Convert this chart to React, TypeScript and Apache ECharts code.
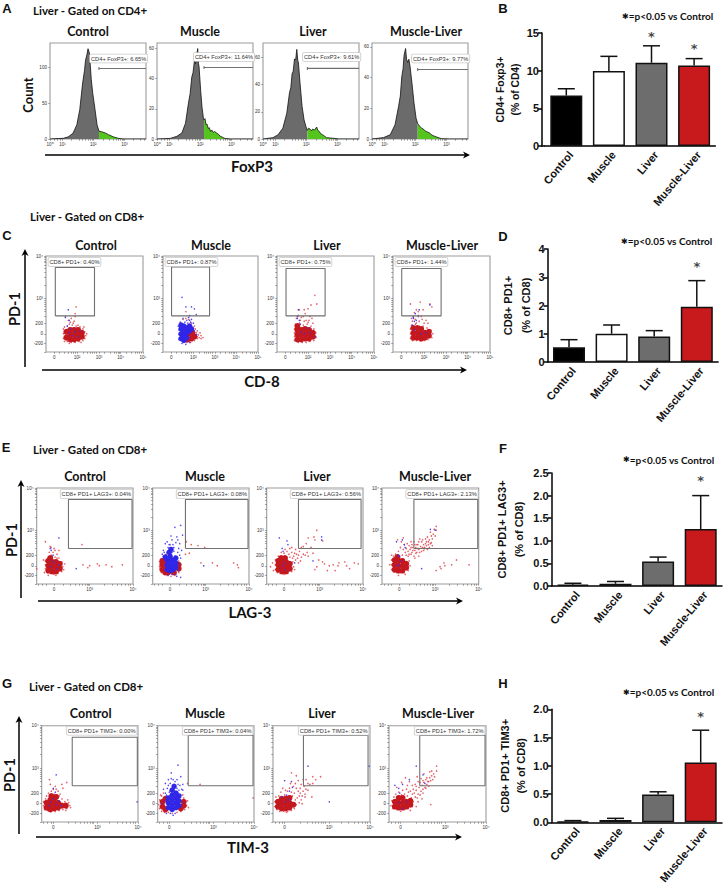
import React, { useEffect, useRef } from "react";
import * as echarts from "echarts";

const groups = ["Control", "Muscle", "Liver", "Muscle-Liver"];

// Bar panels: mean, mean + error, asterisk height
const bMeans = [6.7, 9.95, 11.05, 10.7];
const bTops = [7.6, 11.9, 13.3, 11.6];
const bStars = [[2, 14.9], [3, 13.3]];
const dMeans = [0.52, 1.0, 0.9, 1.96];
const dTops = [0.79, 1.31, 1.11, 2.88];
const dStars = [[3, 3.5]];
const fMeans = [0.03, 0.05, 0.54, 1.26];
const fTops = [0.06, 0.1, 0.64, 2.0];
const fStars = [[3, 2.39]];
const hMeans = [0.015, 0.04, 0.49, 1.06];
const hTops = [0.03, 0.07, 0.54, 1.63];
const hStars = [[3, 1.92]];

// Histograms, FoxP3 channel position vs count; gray part then green part
const aControlGray = [[0,0],[14,1],[19,3],[24,8],[28,20],[31,41],[34,78],[36,96],[37,110],[38.5,118],[39.6,126],[41,120],[41.5,112],[43,83],[44.5,64],[46,50],[49,20],[51,11]];
const aControlGreen = [[51,11],[54,10],[57.5,8.5],[61,6],[66,3],[71,1],[76,0],[100,0]];
const aMuscleGray = [[0,0],[13.8,0.4],[20.7,1.8],[25.9,4],[29.7,10.5],[32.8,24],[34.5,30],[36.2,41],[37.5,44],[39,52],[40.2,50],[41.4,56],[42.4,60],[43.2,50],[43.8,48],[45.5,32],[46.9,21],[48.3,14],[49,12.7]];
const aMuscleGreen = [[49,12.7],[50,13.5],[51,9.5],[52,10],[53.4,7],[54.5,7.5],[55.8,5],[57,6],[58.6,4.4],[60,5],[62,4],[64,3.2],[65.5,2],[70.7,0.4],[76,0],[100,0]];
const aLiverGray = [[0,0],[10.3,1],[15.5,3],[20.7,8],[24.8,19],[27.6,34],[29,38],[30.3,48],[31.5,50],[32.8,59],[34,58],[35.2,66],[36.2,58],[36.9,56],[38.6,41],[40.7,24],[42.8,14],[44.8,9],[46.2,6.3]];
const aLiverGreen = [[46.2,6.3],[47.5,8],[49,7.3],[50.5,6],[51.7,7.3],[53.5,6.5],[55.9,8.8],[57,6.5],[58.6,5.6],[60,4],[62,3.2],[66.2,1],[74,0.5],[79.3,0],[100,0]];
const aMlGray = [[0,0],[12,0.9],[19,2.8],[24,9.3],[27.6,21],[29.5,28],[31,40.6],[32.4,46],[33.4,54.6],[35,59],[36,52],[37.2,50],[38.4,52],[39.6,47.5],[41.7,36],[43.8,23.3],[45.9,13.6],[47.6,10]];
const aMlGreen = [[47.6,10],[49.5,8.5],[51.7,7],[53.5,6.5],[55,5.4],[57,4.8],[60,3.9],[62.5,2.5],[65.5,1.7],[72.4,0.2],[81,0],[100,0]];
const aControlGate = [[51,100.5],[51,96.3],[51,98.4],[100,98.4]];
const aMuscleGate = [[49,48.4],[49,46.4],[49,47.4],[100,47.4]];
const aLiverGate = [[46.2,53.1],[46.2,50.9],[46.2,52],[100,52]];
const aMlGate = [[47.6,46.3],[47.6,44.3],[47.6,45.3],[100,45.3]];

// Flow panel C: CD-8 vs PD-1, positions on the plotted channel scale (0-100)
const cControlCore = [[21,15],[21,21],[25,13],[25,18],[25,23],[29,13],[29,18],[29,23],[33,14],[33,19],[33,23],[37,16],[37,20]];
const cControlRed = [[18,14],[18,19],[18,24],[19,11],[22,27],[24,29],[27,28],[31,27],[35,26],[38,24],[40,21],[41,17],[40,14],[38,12],[34,11],[30,10],[26,10],[22,11],[30,37],[30,40],[31,47],[20,37],[26,35],[23,33],[25,31],[29,32],[28,30],[19,26],[39,26],[42,19],[36,10],[24,9],[33,28]];
const cControlBlue = [[23,44],[20,36],[24,33],[24,20],[27,17],[30,21],[26,24],[33,16],[22,27],[35,22]];
const cMuscleCore = [[22,14],[26,13],[30,14],[33,16],[28,19],[31,20],[25,18],[22,20]];
const cMuscleRed = [[36,16],[38,15],[40,14],[37,18],[35,20],[33,12],[29,10],[25,10],[20,24],[24,35],[27,34],[21,34],[24,42],[30,30],[33,27],[19,30],[36,14],[40,17],[34,24],[36,22],[39,20],[42,15]];
const cMuscleBlueCore = [[19,14],[19,19],[19,24],[22,12],[22,17],[22,22],[22,27],[25,15],[25,20],[25,25],[28,22],[28,27],[19,28],[30,24]];
const cMuscleBlue = [[20,57],[24,47],[30,47],[33,45],[35,39],[28,38],[21,35],[25,33],[28,33],[17,18],[17,23],[17,13],[20,9],[24,8],[28,10],[31,25],[33,22],[35,18],[32,30],[23,31],[27,36],[30,34],[18,31],[16,27],[29,31],[26,30]];
const cLiverCore = [[21,13],[21,18],[21,23],[21,27],[25,13],[25,18],[25,23],[29,14],[29,19],[29,24],[33,14],[33,19],[33,23],[37,16],[37,20]];
const cLiverRed = [[18,12],[18,16],[18,20],[18,24],[19,29],[23,30],[27,28],[31,29],[35,27],[38,24],[40,20],[40,15],[38,12],[34,11],[30,10],[26,10],[22,10],[39,59],[41,50],[35,49],[32,45],[28,44],[23,44],[27,37],[34,37],[20,35],[30,33],[36,35],[24,33],[28,32],[32,31],[22,38],[25,36],[29,40],[33,33],[37,30]];
const cLiverBlue = [[22,44],[21,35],[23,33],[25,21],[32,25],[40,16],[28,19],[34,20],[21,37],[24,29]];
const cMlCore = [[21,15],[21,20],[21,25],[25,15],[25,20],[25,25],[29,14],[29,19],[29,24],[33,15],[33,20],[37,17],[37,21]];
const cMlRed = [[18,14],[18,19],[18,24],[19,28],[20,32],[23,29],[27,27],[31,27],[35,25],[39,23],[41,19],[40,15],[36,13],[32,12],[28,12],[24,12],[20,12],[18,50],[28,52],[38,50],[40,47],[31,44],[24,44],[21,37],[26,37],[34,33],[29,37],[23,34],[27,32],[24,30],[32,30],[22,41],[26,42],[30,34],[36,30],[19,35]];
const cMlBlue = [[27,44],[21,35],[23,40],[22,32],[38,49],[20,28],[29,19],[22,23],[21,36],[24,33],[34,20],[26,38]];

// Flow panel E: LAG-3 vs PD-1
const eControlCore = [[12,14],[12,19],[12,24],[16,13],[16,18],[16,23],[20,13],[20,18],[20,23],[24,16],[24,21],[14,27]];
const eControlRed = [[9,16],[9,20],[9,24],[11,12],[14,11],[18,10],[22,11],[26,13],[27,18],[26,23],[23,27],[19,28],[15,30],[17,33],[13,33],[19,35],[15,38],[21,31],[18,37],[9,44],[14,39],[23,35],[7,25],[0,16],[47,41],[48,20],[53,17],[55,19],[63,21],[65,19],[72,20],[78,18],[89,20],[8,12],[28,15],[29,21],[20,9],[12,9],[16,29],[21,27]];
const eControlBlue = [[23,48],[14,37],[15,35],[17,30],[18,22],[14,18],[21,16],[23,20],[16,24],[41,16]];
const eMuscleCore = [[10,15],[10,20],[10,24],[13,12],[13,17],[13,22],[16,12],[22,12],[27,16],[27,20]];
const eMuscleRed = [[8,16],[8,21],[9,26],[11,29],[12,10],[15,9],[19,8],[23,9],[27,12],[28,18],[27,24],[35,44],[40,41],[47,40],[54,38],[38,32],[34,31],[50,22],[62,22],[67,19],[84,22],[88,20],[89,17],[7,18],[7,23],[9,12],[14,31]];
const eMuscleBlueCore = [[15,15],[15,20],[15,25],[18,14],[18,19],[18,24],[18,29],[21,15],[21,20],[21,25],[17,33],[19,36],[24,17],[24,22],[24,27],[13,28]];
const eMuscleBlue = [[23,29],[24,24],[14,30],[20,33],[13,27],[22,34],[25,28],[27,20],[27,14],[24,10],[20,10],[16,9],[12,33],[16,38],[22,38],[26,33],[29,61],[23,59],[31,51],[25,49],[18,41],[13,42],[20,46],[28,42],[30,35],[11,35],[25,8],[29,7],[53,19],[15,44],[17,41],[24,43],[27,37],[29,27],[28,30],[10,31],[21,41],[26,46],[19,50]];
const eLiverCore = [[12,15],[12,20],[12,24],[16,13],[16,18],[16,23],[20,13],[20,18],[20,23],[24,16],[24,21],[15,27],[19,27]];
const eLiverRed = [[9,15],[9,20],[9,25],[11,12],[14,11],[18,10],[22,11],[26,13],[28,18],[27,23],[24,28],[12,29],[24,37],[29,32],[34,34],[40,30],[43,29],[32,27],[36,28],[28,29],[38,39],[41,42],[46,38],[43,48],[49,49],[50,46],[52,56],[58,45],[36,38],[31,31],[26,33],[21,34],[50,15],[52,18],[58,23],[60,21],[65,19],[71,14],[74,19],[75,22],[81,23],[83,19],[86,16],[91,22],[95,21],[69,20],[4,18],[6,22],[30,25],[33,30],[38,31],[42,33],[35,24],[27,27],[23,31],[18,32],[15,33],[30,36],[26,38],[19,36],[48,32],[33,22],[7,14],[29,15],[54,25],[63,14]];
const eLiverBlue = [[13,48],[21,45],[16,37],[17,34],[22,41],[57,49],[57,46],[48,24],[18,22],[17,19],[29,22],[19,15]];
const eMlCore = [[13,15],[13,20],[13,25],[17,14],[17,19],[17,24],[21,14],[21,19],[21,24],[25,17],[25,21],[16,28]];
const eMlRed = [[10,15],[10,20],[10,25],[12,13],[15,12],[19,12],[23,12],[27,14],[29,19],[28,24],[12,29],[21,30],[28,31],[29,36],[31,33],[32,38],[34,35],[35,32],[36,41],[37,37],[38,44],[40,39],[41,34],[42,46],[43,41],[44,37],[45,47],[46,44],[47,49],[48,41],[47,36],[49,46],[50,42],[51,50],[50,54],[52,47],[53,52],[55,50],[56,56],[56,60],[54,57],[44,38],[39,47],[33,44],[25,37],[23,41],[26,42],[20,44],[16,46],[22,48],[30,44],[28,40],[56,14],[60,18],[64,22],[65,19],[72,20],[77,25],[90,20],[61,16],[27,29],[30,31],[33,29],[30,38],[35,38],[38,36],[39,33],[42,38],[46,40],[43,35],[48,44],[41,44],[37,41],[34,41],[31,41],[27,34],[24,33],[22,36],[19,38],[17,34],[14,31],[36,33],[51,43],[52,40],[45,42],[49,38],[32,35],[25,30],[34,27],[38,29],[8,20],[10,30],[24,10],[17,9]];
const eMlBlue = [[15,44],[21,46],[23,41],[17,30],[18,29],[18,20],[16,19],[50,57],[55,56],[41,16],[24,38],[19,24]];

// Flow panel G: TIM-3 vs PD-1
const gControlCore = [[5,15],[5,20],[9,13],[9,18],[9,23],[13,14],[13,19],[13,24],[17,15],[17,20],[21,17],[25,17],[10,27],[15,26]];
const gControlRed = [[2,17],[2,21],[4,24],[6,12],[10,11],[14,11],[18,12],[22,13],[26,14],[29,17],[28,20],[24,21],[21,24],[18,27],[5,27],[13,29],[8,44],[9,39],[14,37],[26,41],[22,35],[21,39],[17,32],[10,32],[12,34],[15,34],[27,23],[30,15],[25,12],[7,30],[19,29],[3,13]];
const gControlBlue = [[15,49],[99,21],[12,35],[14,31],[10,21],[15,18],[18,22],[12,24],[8,17],[20,17]];
const gMuscleCore = [[5,16],[5,21],[8,13],[8,24],[24,14],[27,17],[27,21]];
const gMuscleRed = [[1,18],[2,14],[2,23],[4,27],[7,10],[11,10],[15,9],[20,10],[24,11],[28,13],[30,17],[29,21],[27,25],[44,39],[31,40],[3,28],[6,30],[26,28],[31,22],[32,15],[4,11],[99,25]];
const gMuscleBlueCore = [[11,15],[11,20],[11,25],[15,13],[15,18],[15,23],[15,28],[19,15],[19,20],[19,25],[19,30],[15,33],[17,37],[22,17],[22,22],[22,27]];
const gMuscleBlue = [[21,59],[14,51],[24,47],[8,40],[26,39],[11,44],[18,42],[21,39],[13,40],[10,35],[8,30],[22,33],[24,28],[23,23],[23,17],[9,28],[12,31],[20,35],[16,44],[7,22],[18,9],[13,9],[25,34],[11,38],[14,45],[20,44],[23,38],[26,33],[6,34],[4,19],[27,20],[9,9],[16,7]];
const gLiverCore = [[5,16],[5,21],[9,14],[9,19],[9,24],[13,14],[13,19],[13,24],[17,15],[17,20],[17,25],[21,18]];
const gLiverRed = [[2,16],[2,21],[4,13],[7,11],[11,11],[15,11],[19,12],[22,14],[24,18],[23,23],[20,27],[6,27],[12,28],[19,51],[24,48],[31,44],[34,44],[41,47],[49,47],[44,44],[38,39],[36,40],[29,39],[28,35],[24,35],[26,32],[31,32],[33,26],[21,37],[17,35],[10,35],[40,26],[29,23],[22,30],[27,27],[25,25],[15,32],[19,31],[23,40],[26,43],[28,30],[30,27],[34,34],[32,37],[36,33],[27,20],[30,19],[18,40],[13,33],[8,31],[14,10],[3,26],[41,40],[33,29]];
const gLiverBlue = [[36,58],[12,43],[19,42],[17,32],[9,26],[14,28],[58,21],[99,58],[12,21],[16,23],[20,36]];
const gMlCore = [[6,16],[6,21],[10,15],[10,20],[10,25],[14,15],[14,20],[14,25],[18,16],[18,21],[22,18],[22,22]];
const gMlRed = [[2,17],[3,22],[5,26],[8,13],[12,13],[16,13],[20,14],[24,16],[25,21],[23,25],[19,27],[13,28],[26,30],[28,33],[30,29],[31,36],[33,32],[34,38],[35,34],[36,41],[37,36],[38,44],[39,39],[40,42],[41,37],[42,46],[43,43],[44,48],[45,44],[46,50],[47,47],[44,53],[49,58],[49,53],[42,52],[36,50],[30,42],[27,39],[24,38],[21,42],[17,46],[13,41],[29,47],[33,45],[43,18],[18,34],[22,32],[27,26],[29,25],[32,28],[35,30],[24,29],[25,34],[28,37],[32,41],[35,43],[38,35],[39,46],[41,42],[20,31],[16,29],[19,38],[14,33],[10,31],[7,29],[30,21],[28,16],[34,24],[22,12],[12,11],[4,14],[8,36]];
const gMlBlue = [[28,58],[6,38],[10,35],[14,39],[21,44],[11,30],[35,49],[37,40],[11,20],[14,14],[18,21]];

// Flow tick positions and labels
const flowYTicks = [0, 8.6, 19, 30, 56, 100];
const flowYLabels = ["", "-200", "0", "200", "10³", "10⁴"];
const flowYMinor = [37, 42, 45, 48, 50, 52, 54, 70, 78, 83, 87, 90, 93, 95, 97, 98.5];
const cXTicks = [8.6, 32, 54.6, 77, 100];
const cXLabels = ["0", "10²", "10³", "10⁴", "10⁵"];
const eXTicks = [18, 55, 100];
const eXLabels = ["0", "10³", "10⁴"];
const gXTicks = [12, 58, 100];
const gXLabels = ["0", "10³", "10⁴"];
const eXMinor = [2, 6, 10, 28, 35, 40, 44, 47, 50, 52, 53.5, 70, 78, 84, 88, 92, 95, 97];
const cXMinor = [14, 19, 23, 26, 28, 30, 38, 43, 46, 48, 50, 52, 60, 66, 70, 72, 74, 75.5, 83, 88, 92, 94, 96, 98];
const aXTicks = [0, 13, 45, 77.6];
const aXLabels = ["10⁰", "10¹", "10²", "10³"];
const aXMinor = [4, 8, 10.5, 22, 30, 34, 37, 40, 42, 43.5, 55, 62, 66, 69, 71, 73, 75, 76.5, 87, 94, 98];

// Gates: [x0, y0, x1, y1]
const cGates = [[9.6,37.6,50,88],[9,37.6,49,88.6],[9.3,37.6,49.6,87],[9,37.6,49.6,87]];
const eGates = [[33,37,99,88],[34,37,99,88],[33,37,98,88],[33,37,99,88]];
const gGates = [[31.7,37.6,99.3,88],[31.7,37.6,99,90],[31.4,37.6,98,90],[31.7,37.6,99,90]];

const aTexts = ["CD4+ FoxP3+: 6.65%", "CD4+ FoxP3+: 11.64%", "CD4+ FoxP3+: 9.61%", "CD4+ FoxP3+: 9.77%"];
const cTexts = ["CD8+ PD1+: 0.40%", "CD8+ PD1+: 0.87%", "CD8+ PD1+: 0.75%", "CD8+ PD1+: 1.44%"];
const eTexts = ["CD8+ PD1+ LAG3+: 0.04%", "CD8+ PD1+ LAG3+: 0.08%", "CD8+ PD1+ LAG3+: 0.56%", "CD8+ PD1+ LAG3+: 2.13%"];
const gTexts = ["CD8+ PD1+ TIM3+: 0.00%", "CD8+ PD1+ TIM3+: 0.04%", "CD8+ PD1+ TIM3+: 0.52%", "CD8+ PD1+ TIM3+: 1.72%"];

const RED = "#c8191c";
const barColors = ["#000000", "#ffffff", "#6d6d6d", RED];
const TITLE_FONT = "Lato";
const AXIS_FONT = "Liberation Sans";
const FRAME = "#9c9c9c";

function buildOption() {
  const grid: any[] = [];
  const xAxis: any[] = [];
  const yAxis: any[] = [];
  const series: any[] = [];
  const graphic: any[] = [];

  const text = (t: string, x: number, y: number, size: number, o: any = {}) => {
    graphic.push({
      type: "text", x, y, rotation: o.rotation || 0, silent: true,
      style: {
        text: t, fontFamily: o.font || TITLE_FONT, fontWeight: o.weight || "bold", fontSize: size,
        fill: o.fill || "#111", textAlign: o.align || "center", textVerticalAlign: "middle",
      },
    });
  };
  const arrowH = (x1: number, x2: number, y: number) => {
    graphic.push({ type: "line", silent: true, shape: { x1, y1: y, x2: x2 - 3, y2: y }, style: { stroke: "#000", lineWidth: 1.5 } });
    graphic.push({ type: "polygon", silent: true, shape: { points: [[x2 - 7, y - 3.5], [x2, y], [x2 - 7, y + 3.5], [x2 - 5, y]] }, style: { fill: "#000" } });
  };
  const arrowV = (x: number, y1: number, y2: number) => {
    graphic.push({ type: "line", silent: true, shape: { x1: x, y1: y1 + 3, x2: x, y2 }, style: { stroke: "#000", lineWidth: 1.5 } });
    graphic.push({ type: "polygon", silent: true, shape: { points: [[x - 3.5, y1 + 7], [x, y1], [x + 3.5, y1 + 7], [x, y1 + 5]] }, style: { fill: "#000" } });
  };
  const gateLabel = (t: string, x: number, y: number, align: string) => {
    graphic.push({
      type: "text", x, y, silent: true, z: 50,
      style: {
        text: t, fontFamily: AXIS_FONT, fontSize: 5.7, fill: "#333", textAlign: align, textVerticalAlign: "top",
        backgroundColor: "#fff", borderColor: "#c8c8c8", borderWidth: 0.8, borderRadius: 1, padding: [1, 1],
      },
    });
  };

  const barPanel = (left: number, top: number, max: number, step: number, means: number[], tops: number[], stars: number[][], name: string, offset: number, decimals: number, nameGap: number, nameLine: number, nameSize: number) => {
    const i = grid.length;
    grid.push({ left, top, width: 170.4, height: 113 });
    xAxis.push({
      gridIndex: i, type: "category", data: groups,
      axisLine: { lineStyle: { color: "#000", width: 1.5 } },
      axisTick: { alignWithLabel: true, length: 4, lineStyle: { color: "#000", width: 1.5 } },
      axisLabel: { rotate: 50, interval: 0, margin: 12, padding: [0, -7, 0, 0], fontFamily: AXIS_FONT, fontWeight: "bold", fontSize: 11, color: "#111" },
    });
    yAxis.push({
      gridIndex: i, type: "value", min: 0, max, interval: step, offset, splitLine: { show: false },
      axisLine: { show: true, lineStyle: { color: "#000", width: 1.5 } },
      axisTick: { show: true, length: 4, lineStyle: { color: "#000", width: 1.5 } },
      axisLabel: { margin: 3, fontFamily: AXIS_FONT, fontWeight: "bold", fontSize: 11, color: "#111", formatter: (v: number) => v.toFixed(decimals) },
      name, nameLocation: "middle", nameRotate: 90, nameGap,
      nameTextStyle: { fontFamily: AXIS_FONT, fontWeight: "bold", fontSize: nameSize, lineHeight: nameLine, color: "#111" },
    });
    series.push({
      type: "custom", xAxisIndex: i, yAxisIndex: i, silent: true, z: 1,
      data: tops.map((t, k) => [k, t, means[k]]),
      renderItem: (_: any, api: any) => {
        const a = api.coord([api.value(0), api.value(2)]);
        const b = api.coord([api.value(0), api.value(1)]);
        const s = { stroke: "#111", lineWidth: 1.5 };
        return {
          type: "group",
          children: [
            { type: "line", shape: { x1: a[0], y1: a[1], x2: b[0], y2: b[1] }, style: s },
            { type: "line", shape: { x1: b[0] - 8.5, y1: b[1], x2: b[0] + 8.5, y2: b[1] }, style: s },
          ],
        };
      },
    });
    series.push({
      type: "bar", xAxisIndex: i, yAxisIndex: i, barWidth: 32, silent: true, z: 2,
      data: means.map((v, k) => ({ value: v, itemStyle: { color: barColors[k], borderColor: "#111", borderWidth: 1.5 } })),
    });
    series.push({
      type: "scatter", xAxisIndex: i, yAxisIndex: i, symbolSize: 0, silent: true, z: 3, data: stars,
      label: { show: true, position: "inside", offset: [0, 3], formatter: "*", fontFamily: "DejaVu Sans", fontWeight: "bold", fontSize: 13, color: "#111" },
    });
  };

  const axes = (rect: number[], xT: number[], xL: string[], xMinor: number[], yT: number[], yL: string[], yMinor: number[], yMax: number) => {
    const i = grid.length;
    grid.push({ left: rect[0], top: rect[1], width: rect[2] - rect[0], height: rect[3] - rect[1], show: true, borderColor: FRAME, borderWidth: 1.1, backgroundColor: "#fff" });
    const fmt = (ticks: number[], labels: string[]) => (v: number) => { const k = ticks.indexOf(v); return k >= 0 ? labels[k] : ""; };
    const tickStyle = { color: "#555", width: 0.5 };
    const lab = { fontFamily: AXIS_FONT, fontSize: 4.6, color: "#333", margin: 3, hideOverlap: false };
    xAxis.push({
      gridIndex: i, type: "value", min: 0, max: 100, splitLine: { show: false }, axisLine: { show: false },
      axisTick: { show: true, length: 1.8, lineStyle: tickStyle, customValues: [...xT, ...xMinor] },
      axisLabel: { ...lab, customValues: xT, formatter: fmt(xT, xL) },
    });
    yAxis.push({
      gridIndex: i, type: "value", min: 0, max: yMax, splitLine: { show: false }, axisLine: { show: false },
      axisTick: { show: true, length: 1.8, lineStyle: tickStyle, customValues: [...yT, ...yMinor] },
      axisLabel: { ...lab, customValues: yT, formatter: fmt(yT, yL) },
    });
    return i;
  };

  const gateSeries = (i: number, data: number[][]) => {
    series.push({ type: "line", xAxisIndex: i, yAxisIndex: i, symbol: "none", silent: true, z: 6, data, lineStyle: { color: "#707070", width: 1.1 } });
  };

  const histPanel = (rect: number[], gray: number[][], green: number[][], gate: number[][], yT: number[], yL: string[], yMax: number) => {
    const i = axes(rect, aXTicks, aXLabels, aXMinor, yT, yL, [], yMax);
    const part = (data: number[][], color: string) => series.push({
      type: "line", xAxisIndex: i, yAxisIndex: i, symbol: "none", silent: true, z: 4, data,
      lineStyle: { color: "#111", width: 0.8 }, areaStyle: { color, opacity: 1 },
    });
    part(gray, "#6b6b6b");
    part(green, "#56c41f");
    gateSeries(i, gate);
  };

  const flowPanel = (rect: number[], xT: number[], xL: string[], xMinor: number[], gate: number[], core: number[][], red: number[][], blue: number[][], blueCore: number[][] = []) => {
    const i = axes(rect, xT, xL, xMinor, flowYTicks, flowYLabels, flowYMinor, 100);
    const pts = (data: number[][], color: string, size: number, opacity: number, z: number) => series.push({
      type: "scatter", xAxisIndex: i, yAxisIndex: i, symbolSize: size, silent: true, z, data, itemStyle: { color, opacity },
    });
    pts(red, "#dc3a42", 1.6, 0.8, 4);
    pts(core, "#c4181f", 6, 1, 4);
    pts(blue, "#3c2ff0", 1.5, 0.9, 5);
    if (blueCore.length) pts(blueCore, "#3026e8", 5.5, 1, 5);
    const [x0, y0, x1, y1] = gate;
    gateSeries(i, [[x0, y0], [x1, y0], [x1, y1], [x0, y1], [x0, y0]]);
  };

  // ---- Panel A
  const aRects = [[50, 43, 146, 139], [157, 43, 253, 139], [263, 43, 359, 139], [372, 43, 468, 139]];
  histPanel(aRects[0], aControlGray, aControlGreen, aControlGate, [0, 50, 100], ["0", "50", "100"], 134);
  histPanel(aRects[1], aMuscleGray, aMuscleGreen, aMuscleGate, [0, 20, 40, 60], ["0", "20", "40", "60"], 63.7);
  histPanel(aRects[2], aLiverGray, aLiverGreen, aLiverGate, [0, 20, 40, 60], ["0", "20", "40", "60"], 70.7);
  histPanel(aRects[3], aMlGray, aMlGreen, aMlGate, [0, 20, 40, 60], ["0", "20", "40", "60"], 62.6);
  [88, 200, 313, 426].forEach((x, k) => text(groups[k], x, 31, 12.5));
  gateLabel(aTexts[0], 90, 54.5, "left");
  gateLabel(aTexts[1], 194, 53, "left");
  gateLabel(aTexts[2], 303, 53, "left");
  gateLabel(aTexts[3], 412, 54.5, "left");
  text("A", 7, 8, 13, { font: AXIS_FONT });
  text("Liver - Gated on CD4+", 33, 10, 11.5, { align: "left" });
  text("Count", 28, 95, 13, { rotation: Math.PI / 2 });
  arrowH(45, 470, 155);
  text("FoxP3", 252, 166, 15);

  // ---- Panel C
  const cRects = [[46, 256, 143, 352], [163, 256, 258, 352], [277, 256, 374, 352], [393, 256, 490, 352]];
  flowPanel(cRects[0], cXTicks, cXLabels, cXMinor, cGates[0], cControlCore, cControlRed, cControlBlue);
  flowPanel(cRects[1], cXTicks, cXLabels, cXMinor, cGates[1], cMuscleCore, cMuscleRed, cMuscleBlue, cMuscleBlueCore);
  flowPanel(cRects[2], cXTicks, cXLabels, cXMinor, cGates[2], cLiverCore, cLiverRed, cLiverBlue);
  flowPanel(cRects[3], cXTicks, cXLabels, cXMinor, cGates[3], cMlCore, cMlRed, cMlBlue);
  [96, 211, 327, 442].forEach((x, k) => text(groups[k], x, 245, 12.5));
  cRects.forEach((r, k) => gateLabel(cTexts[k], r[0] + 2.5, r[1] + 2, "left"));
  text("C", 7, 235, 13, { font: AXIS_FONT });
  text("Liver - Gated on CD8+", 30, 216, 11.5, { align: "left" });
  arrowV(25, 249, 367);
  text("PD-1", 14, 309, 14.5, { rotation: Math.PI / 2 });
  arrowH(42, 467, 370);
  text("CD-8", 262, 381, 15);

  // ---- Panel E
  const eRects = [[36.7, 488, 133, 584], [152.7, 488, 249, 584], [266.7, 488, 363, 584], [382, 488, 478.7, 584]];
  flowPanel(eRects[0], eXTicks, eXLabels, eXMinor, eGates[0], eControlCore, eControlRed, eControlBlue);
  flowPanel(eRects[1], eXTicks, eXLabels, eXMinor, eGates[1], eMuscleCore, eMuscleRed, eMuscleBlue, eMuscleBlueCore);
  flowPanel(eRects[2], eXTicks, eXLabels, eXMinor, eGates[2], eLiverCore, eLiverRed, eLiverBlue);
  flowPanel(eRects[3], eXTicks, eXLabels, eXMinor, eGates[3], eMlCore, eMlRed, eMlBlue);
  [85, 205, 317, 435].forEach((x, k) => text(groups[k], x, 476, 12.5));
  eRects.forEach((r, k) => gateLabel(eTexts[k], r[2] - 1, r[1] + 2, "right"));
  text("E", 6, 447, 13, { font: AXIS_FONT });
  text("Liver - Gated on CD8+", 33, 449, 11.5, { align: "left" });
  arrowV(21, 480, 598);
  text("PD-1", 11, 540, 14.5, { rotation: Math.PI / 2 });
  arrowH(38, 463, 601);
  text("LAG-3", 250, 612, 15);

  // ---- Panel G
  const gRects = [[41.7, 725.7, 138, 822], [157.7, 725.7, 254, 822], [273, 725.7, 370, 822], [389, 725.7, 486, 822]];
  flowPanel(gRects[0], gXTicks, gXLabels, eXMinor, gGates[0], gControlCore, gControlRed, gControlBlue);
  flowPanel(gRects[1], gXTicks, gXLabels, eXMinor, gGates[1], gMuscleCore, gMuscleRed, gMuscleBlue, gMuscleBlueCore);
  flowPanel(gRects[2], gXTicks, gXLabels, eXMinor, gGates[2], gLiverCore, gLiverRed, gLiverBlue);
  flowPanel(gRects[3], gXTicks, gXLabels, eXMinor, gGates[3], gMlCore, gMlRed, gMlBlue);
  [90.7, 205, 322, 438].forEach((x, k) => text(groups[k], x, 713, 12.5));
  gRects.forEach((r, k) => gateLabel(gTexts[k], r[2] - 1.5, r[1] + 1, "right"));
  text("G", 7, 683, 13, { font: AXIS_FONT });
  text("Liver - Gated on CD8+", 29, 686, 11.5, { align: "left" });
  arrowV(19, 716, 834);
  text("PD-1", 9, 775, 14.5, { rotation: Math.PI / 2 });
  arrowH(36, 462, 837);
  text("TIM-3", 248, 847, 15);

  // ---- Bar panels
  barPanel(545, 33, 15, 5, bMeans, bTops, bStars, "CD4+ Foxp3+\n(% of CD4)", 3, 0, 14, 15, 10.3);
  barPanel(547.7, 249, 4, 1, dMeans, dTops, dStars, "CD8+ PD1+\n(% of CD8)", 0, 0, 12.5, 18, 11);
  barPanel(551.6, 473, 2.5, 0.5, fMeans, fTops, fStars, "CD8+ PD1+ LAG3+\n(% of CD8)", 0, 1, 24.5, 17, 11);
  barPanel(551.6, 709.3, 2, 0.5, hMeans, hTops, hStars, "CD8+ PD1+ TIM3+\n(% of CD8)", 0, 1, 20, 16.5, 11);
  graphic.push({ type: "line", silent: true, shape: { x1: 541.5, y1: 146, x2: 545, y2: 146 }, style: { stroke: "#000", lineWidth: 1.5 } });
  const note = (x: number, y: number) => graphic.push({
    type: "text", x, y, silent: true,
    style: {
      text: "{a|✱}{b|=p<0.05 vs Control}", textVerticalAlign: "middle", textAlign: "left",
      rich: {
        a: { fontFamily: "DejaVu Sans", fontSize: 8, fill: "#111" },
        b: { fontFamily: TITLE_FONT, fontWeight: "bold", fontSize: 10, fill: "#111" },
      },
    },
  });
  note(622, 16); note(621, 241); note(623, 459.5); note(623, 692);
  text("B", 503, 8, 13, { font: AXIS_FONT });
  text("D", 503, 236, 13, { font: AXIS_FONT });
  text("F", 503, 448, 13, { font: AXIS_FONT });
  text("H", 503, 683, 13, { font: AXIS_FONT });

  return { animation: false, backgroundColor: "#fff", grid, xAxis, yAxis, series, graphic };
}

export default function App() {
  const ref = useRef<HTMLDivElement>(null);
  useEffect(() => {
    document.body.style.margin = "0";
    const chart = echarts.init(ref.current!, undefined, { renderer: "svg" });
    chart.setOption(buildOption() as any);
    return () => chart.dispose();
  }, []);
  return <div ref={ref} style={{ width: 724, height: 889 }} />;
}
